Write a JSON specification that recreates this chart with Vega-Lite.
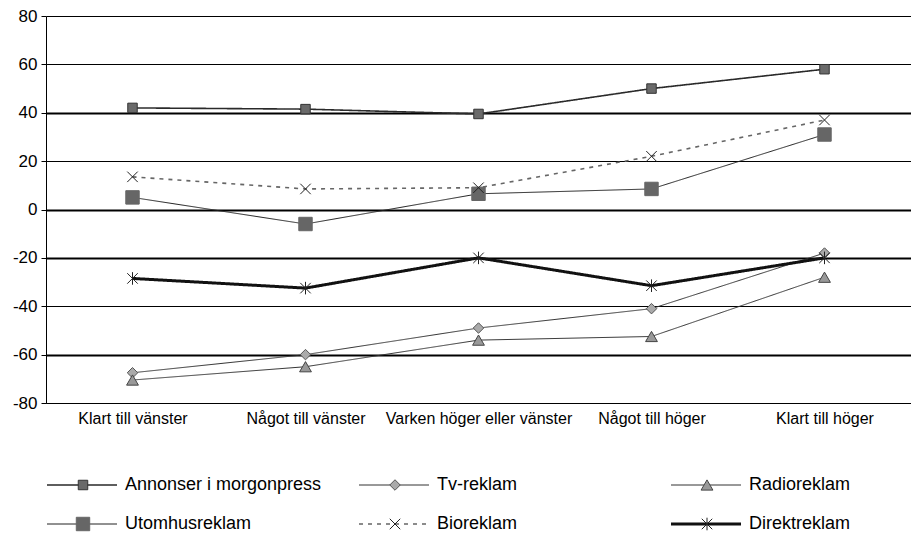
{
  "$schema": "https://vega.github.io/schema/vega-lite/v6.json",
  "padding": {"left": 12, "top": 7, "right": 0, "bottom": 0},
  "background": "white",
  "config": {
    "view": {"stroke": null},
    "font": "Liberation Sans",
    "concat": {"spacing": 82}
  },
  "bounds": "flush",
  "datasets": {
    "main": [
      {"cat": "Klart till vänster", "series": "Annonser i morgonpress", "value": 42},
      {"cat": "Något till vänster", "series": "Annonser i morgonpress", "value": 41.5},
      {"cat": "Varken höger eller vänster", "series": "Annonser i morgonpress", "value": 39.5},
      {"cat": "Något till höger", "series": "Annonser i morgonpress", "value": 50},
      {"cat": "Klart till höger", "series": "Annonser i morgonpress", "value": 58},
      {"cat": "Klart till vänster", "series": "Tv-reklam", "value": -67.5},
      {"cat": "Något till vänster", "series": "Tv-reklam", "value": -60},
      {"cat": "Varken höger eller vänster", "series": "Tv-reklam", "value": -49},
      {"cat": "Något till höger", "series": "Tv-reklam", "value": -41},
      {"cat": "Klart till höger", "series": "Tv-reklam", "value": -18},
      {"cat": "Klart till vänster", "series": "Radioreklam", "value": -70.5},
      {"cat": "Något till vänster", "series": "Radioreklam", "value": -65},
      {"cat": "Varken höger eller vänster", "series": "Radioreklam", "value": -54},
      {"cat": "Något till höger", "series": "Radioreklam", "value": -52.5},
      {"cat": "Klart till höger", "series": "Radioreklam", "value": -28},
      {"cat": "Klart till vänster", "series": "Utomhusreklam", "value": 5},
      {"cat": "Något till vänster", "series": "Utomhusreklam", "value": -6},
      {"cat": "Varken höger eller vänster", "series": "Utomhusreklam", "value": 6.5},
      {"cat": "Något till höger", "series": "Utomhusreklam", "value": 8.5},
      {"cat": "Klart till höger", "series": "Utomhusreklam", "value": 31},
      {"cat": "Klart till vänster", "series": "Bioreklam", "value": 13.5},
      {"cat": "Något till vänster", "series": "Bioreklam", "value": 8.5},
      {"cat": "Varken höger eller vänster", "series": "Bioreklam", "value": 9},
      {"cat": "Något till höger", "series": "Bioreklam", "value": 22},
      {"cat": "Klart till höger", "series": "Bioreklam", "value": 37},
      {"cat": "Klart till vänster", "series": "Direktreklam", "value": -28.5},
      {"cat": "Något till vänster", "series": "Direktreklam", "value": -32.5},
      {"cat": "Varken höger eller vänster", "series": "Direktreklam", "value": -20},
      {"cat": "Något till höger", "series": "Direktreklam", "value": -31.5},
      {"cat": "Klart till höger", "series": "Direktreklam", "value": -20}
    ],
    "legend": [
      {"series": "Annonser i morgonpress", "order": 1},
      {"series": "Tv-reklam", "order": 2},
      {"series": "Radioreklam", "order": 3},
      {"series": "Utomhusreklam", "order": 4},
      {"series": "Bioreklam", "order": 5},
      {"series": "Direktreklam", "order": 6}
    ]
  },
  "vconcat": [
    {
      "width": 865,
      "height": 387,
      "data": {"name": "main"},
      "encoding": {
        "x": {
          "field": "cat", "type": "nominal",
          "sort": ["Klart till vänster", "Något till vänster", "Varken höger eller vänster", "Något till höger", "Klart till höger"],
          "scale": {"type": "point", "padding": 0.5},
          "axis": {"title": null, "labelAngle": 0, "labelLimit": 0, "ticks": false, "domain": true, "domainColor": "#000000", "domainWidth": 1, "grid": false, "labelFontSize": 16, "labelColor": "#000000", "labelPadding": 7, "labelFont": "Liberation Sans"}
        },
        "y": {
          "field": "value", "type": "quantitative",
          "scale": {"domain": [-80, 80], "nice": false, "zero": false},
          "axis": {
            "title": null,
            "values": [-80, -60, -40, -20, 0, 20, 40, 60, 80],
            "labelExpr": "'' + datum.value",
            "grid": true, "gridColor": "#000000",
            "gridWidth": {"condition": {"test": "datum.value === 40 || datum.value === 0 || datum.value === -20 || datum.value === -60", "value": 2}, "value": 1},
            "domainColor": "#000000", "tickColor": "#000000", "tickSize": 5,
            "labelFontSize": 17, "labelColor": "#000000", "labelPadding": 4, "labelFont": "Liberation Sans"
          }
        }
      },
      "layer": [
        {
          "mark": {"type": "line"},
          "encoding": {
            "detail": {"field": "series"},
            "color": {"field": "series", "type": "nominal", "legend": null,
              "scale": {"domain": ["Annonser i morgonpress", "Tv-reklam", "Radioreklam", "Utomhusreklam", "Bioreklam", "Direktreklam"],
                        "range": ["#2a2a2a", "#333333", "#333333", "#222222", "#666666", "#111111"]}},
            "strokeWidth": {"field": "series", "type": "nominal", "legend": null,
              "scale": {"type": "ordinal", "domain": ["Annonser i morgonpress", "Tv-reklam", "Radioreklam", "Utomhusreklam", "Bioreklam", "Direktreklam"],
                        "range": [1.6, 1, 1, 1, 1.6, 3]}},
            "strokeDash": {"field": "series", "type": "nominal", "legend": null,
              "scale": {"domain": ["Annonser i morgonpress", "Tv-reklam", "Radioreklam", "Utomhusreklam", "Bioreklam", "Direktreklam"],
                        "range": [[1, 0], [1, 0], [1, 0], [1, 0], [4, 5], [1, 0]]}}
          }
        },
        {
          "mark": {"type": "point", "filled": true, "strokeWidth": 1, "opacity": 1},
          "encoding": {
            "shape": {"field": "series", "type": "nominal", "legend": null,
              "scale": {"domain": ["Annonser i morgonpress", "Tv-reklam", "Radioreklam", "Utomhusreklam", "Bioreklam", "Direktreklam"],
                        "range": ["square", "diamond", "triangle-up", "square", "M-1,-1L1,1M-1,1L1,-1", "M-1,-1L1,1M-1,1L1,-1M0,-1.2L0,1.2"]}},
            "size": {"field": "series", "type": "nominal", "legend": null,
              "scale": {"type": "ordinal", "domain": ["Annonser i morgonpress", "Tv-reklam", "Radioreklam", "Utomhusreklam", "Bioreklam", "Direktreklam"],
                        "range": [90, 110, 140, 180, 110, 110]}},
            "fill": {"field": "series", "type": "nominal", "legend": null,
              "scale": {"domain": ["Annonser i morgonpress", "Tv-reklam", "Radioreklam", "Utomhusreklam", "Bioreklam", "Direktreklam"],
                        "range": ["#6a6a6a", "#aaaaaa", "#999999", "#666666", "transparent", "transparent"]}},
            "stroke": {"field": "series", "type": "nominal", "legend": null,
              "scale": {"domain": ["Annonser i morgonpress", "Tv-reklam", "Radioreklam", "Utomhusreklam", "Bioreklam", "Direktreklam"],
                        "range": ["#333333", "#555555", "#444444", "#666666", "#222222", "#222222"]}}
          }
        }
      ]
    },
    {
      "width": 865,
      "height": 39,
      "data": {"name": "legend"},
      "transform": [
        {"calculate": "(datum.order - 1) % 3", "as": "col"},
        {"calculate": "floor((datum.order - 1) / 3)", "as": "row"}
      ],
      "encoding": {
        "x": {"field": "col", "type": "ordinal", "scale": {"type": "point", "padding": 0, "domain": [0, 1, 2], "range": [1, 625]}, "axis": null},
        "y": {"field": "row", "type": "ordinal", "scale": {"type": "point", "padding": 0, "domain": [0, 1]}, "axis": null}
      },
      "layer": [
        {
          "mark": {"type": "rule", "x2Offset": 70},
          "encoding": {
            "x2": {"field": "col"},
            "color": {"field": "series", "type": "nominal", "legend": null,
              "scale": {"domain": ["Annonser i morgonpress", "Tv-reklam", "Radioreklam", "Utomhusreklam", "Bioreklam", "Direktreklam"],
                        "range": ["#2a2a2a", "#333333", "#333333", "#222222", "#666666", "#111111"]}},
            "strokeWidth": {"field": "series", "type": "nominal", "legend": null,
              "scale": {"type": "ordinal", "domain": ["Annonser i morgonpress", "Tv-reklam", "Radioreklam", "Utomhusreklam", "Bioreklam", "Direktreklam"],
                        "range": [1.6, 1, 1, 1, 1.6, 3]}},
            "strokeDash": {"field": "series", "type": "nominal", "legend": null,
              "scale": {"domain": ["Annonser i morgonpress", "Tv-reklam", "Radioreklam", "Utomhusreklam", "Bioreklam", "Direktreklam"],
                        "range": [[1, 0], [1, 0], [1, 0], [1, 0], [4, 5], [1, 0]]}}
          }
        },
        {
          "mark": {"type": "point", "filled": true, "strokeWidth": 1, "opacity": 1, "xOffset": 36},
          "encoding": {
            "shape": {"field": "series", "type": "nominal", "legend": null,
              "scale": {"domain": ["Annonser i morgonpress", "Tv-reklam", "Radioreklam", "Utomhusreklam", "Bioreklam", "Direktreklam"],
                        "range": ["square", "diamond", "triangle-up", "square", "M-1,-1L1,1M-1,1L1,-1", "M-1,-1L1,1M-1,1L1,-1M0,-1.2L0,1.2"]}},
            "size": {"field": "series", "type": "nominal", "legend": null,
              "scale": {"type": "ordinal", "domain": ["Annonser i morgonpress", "Tv-reklam", "Radioreklam", "Utomhusreklam", "Bioreklam", "Direktreklam"],
                        "range": [60, 80, 90, 160, 90, 90]}},
            "fill": {"field": "series", "type": "nominal", "legend": null,
              "scale": {"domain": ["Annonser i morgonpress", "Tv-reklam", "Radioreklam", "Utomhusreklam", "Bioreklam", "Direktreklam"],
                        "range": ["#6a6a6a", "#aaaaaa", "#999999", "#666666", "transparent", "transparent"]}},
            "stroke": {"field": "series", "type": "nominal", "legend": null,
              "scale": {"domain": ["Annonser i morgonpress", "Tv-reklam", "Radioreklam", "Utomhusreklam", "Bioreklam", "Direktreklam"],
                        "range": ["#333333", "#555555", "#444444", "#666666", "#222222", "#222222"]}}
          }
        },
        {
          "mark": {"type": "text", "align": "left", "baseline": "middle", "xOffset": 78, "fontSize": 18, "font": "Liberation Sans", "color": "#000000"},
          "encoding": {"text": {"field": "series"}}
        }
      ]
    }
  ]
}
